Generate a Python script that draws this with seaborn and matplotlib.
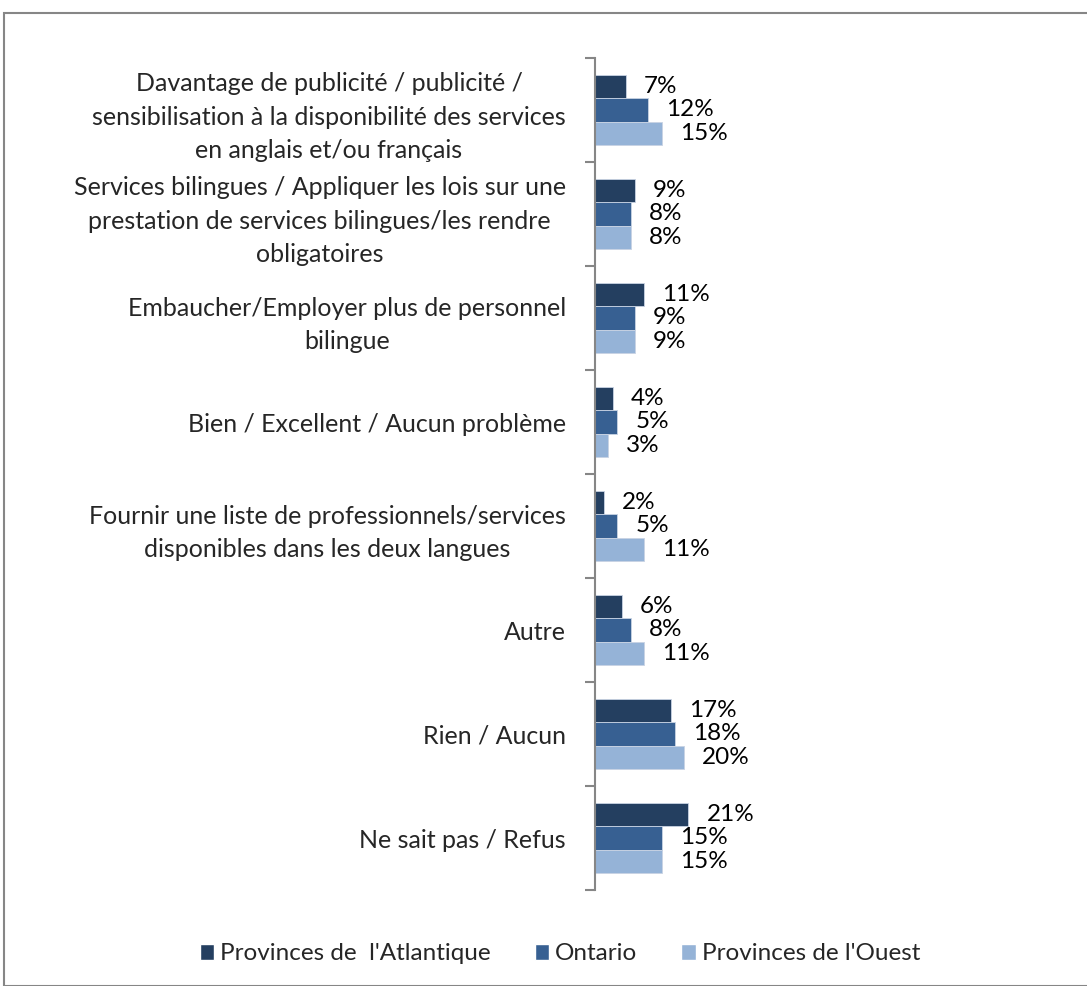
import matplotlib
matplotlib.use("Agg")
import matplotlib.pyplot as plt
import seaborn as sns
import pandas as pd
from matplotlib.patches import Rectangle
from matplotlib.ticker import FixedLocator

categories = [
    "Davantage de publicité / publicité /\nsensibilisation à la disponibilité des services\nen anglais et/ou français",
    "Services bilingues / Appliquer les lois sur une\nprestation de services bilingues/les rendre\nobligatoires",
    "Embaucher/Employer plus de personnel\nbilingue",
    "Bien / Excellent / Aucun problème",
    "Fournir une liste de professionnels/services\ndisponibles dans les deux langues",
    "Autre",
    "Rien / Aucun",
    "Ne sait pas / Refus",
]
series_names = ["Provinces de  l'Atlantique", "Ontario", "Provinces de l'Ouest"]
atlantique = [7, 9, 11, 4, 2, 6, 17, 21]
ontario = [12, 8, 9, 5, 5, 8, 18, 15]
ouest = [15, 8, 9, 3, 11, 11, 20, 15]
colors = ["#243F60", "#376092", "#95B3D7"]

rows = []
for name, vals in zip(series_names, [atlantique, ontario, ouest]):
    for c, v in zip(categories, vals):
        rows.append({"cat": c, "serie": name, "val": v})
df = pd.DataFrame(rows)

sns.set_style("white")
plt.rcParams["font.family"] = ["Lato", "DejaVu Sans"]

W, H = 1087, 986
fig = plt.figure(figsize=(W / 100, H / 100), dpi=100)
ax_left, ax_right = 595 / W, 1.0
ax_top, ax_bot = 1 - 58 / H, 1 - 890 / H
ax = fig.add_axes([ax_left, ax_bot, ax_right - ax_left, ax_top - ax_bot])

sns.barplot(data=df, y="cat", x="val", hue="serie", order=categories,
            hue_order=series_names, palette=colors, orient="h", saturation=1,
            width=0.67, ax=ax, edgecolor="#c8d3e3", linewidth=0.6,
            legend=False)

ax.set_xlim(0, 492 / 4.45)
ax.set_ylim(len(categories) - 0.5, -0.5)
ax.set_xlabel("")
ax.set_ylabel("")
ax.set_xticks([])
for s in ["top", "right", "bottom"]:
    ax.spines[s].set_visible(False)
ax.spines["left"].set_color("#868686")
ax.spines["left"].set_linewidth(1.5)

ax.set_yticks(range(len(categories)))
ax.set_yticklabels(categories, fontsize=18, ha="right", linespacing=1.55)
for lab in ax.get_yticklabels():
    lab.set_multialignment("center")
ax.tick_params(axis="y", which="major", length=0, pad=21)
ax.yaxis.set_minor_locator(FixedLocator([i + 0.5 for i in range(-1, len(categories))]))
ax.tick_params(axis="y", which="minor", length=7, width=1.5, color="#868686", left=True)

for cont in ax.containers:
    ax.bar_label(cont, labels=[f"{int(v)}%" for v in cont.datavalues],
                 padding=13, fontsize=17.5, color="#000000")

# legend
handles = [Rectangle((0, 0), 1, 1, facecolor=c) for c in colors]
fig.legend(handles, series_names, loc="center", ncol=3, frameon=False,
           bbox_to_anchor=(560 / W, 1 - 954 / H), fontsize=17.5,
           handlelength=0.6, handleheight=0.6, handletextpad=0.25,
           columnspacing=1.8)

# outer border
fig.patches.append(Rectangle((4 / W, 0), 1.2, 1 - 13 / H, transform=fig.transFigure,
                             fill=False, edgecolor="#868686", linewidth=1.5))

fig.savefig("out.png", dpi=100)
